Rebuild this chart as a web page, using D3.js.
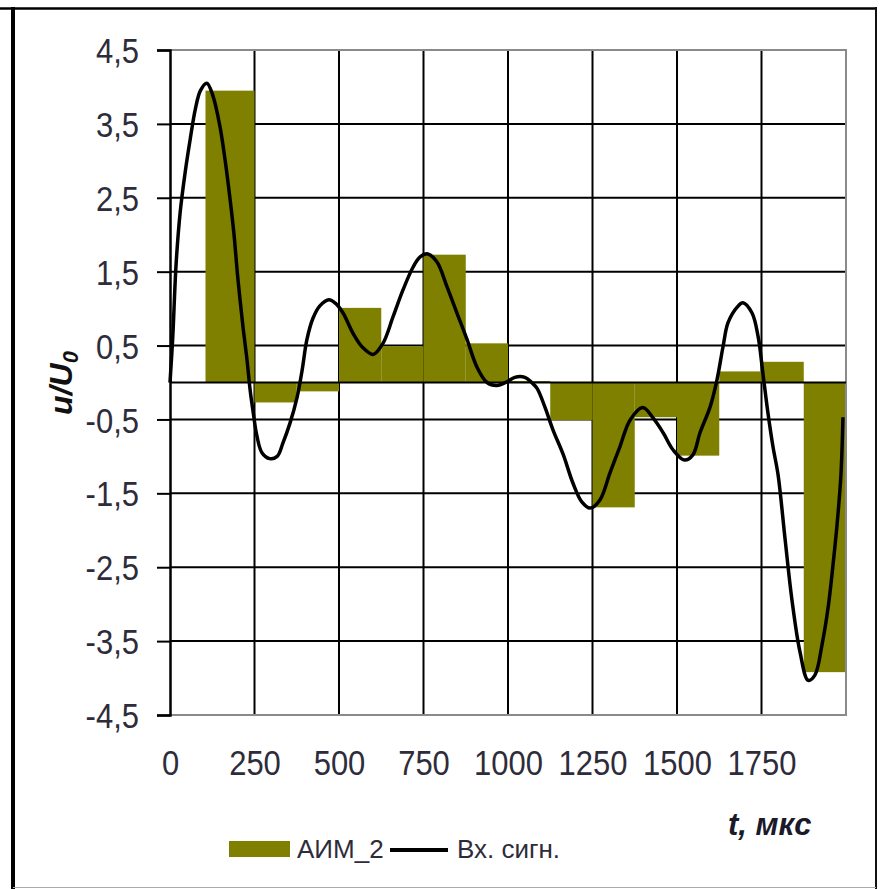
<!DOCTYPE html>
<html>
<head>
<meta charset="utf-8">
<script src="https://cdn.jsdelivr.net/npm/d3@7"></script>
<style>
  html, body { margin: 0; padding: 0; background: #fff; }
  svg { display: block; }
</style>
</head>
<body>
<svg id="chart" width="881" height="889"></svg>
<script>
// ---- data ----
const xTicks = [0, 250, 500, 750, 1000, 1250, 1500, 1750];
const yTicks = [-4.5, -3.5, -2.5, -1.5, -0.5, 0.5, 1.5, 2.5, 3.5, 4.5];
// АИМ_2 step bars: edges (мкс) and held values
const barEdges = [105, 250, 375, 500, 625, 750, 875, 1000, 1125, 1250, 1375, 1500, 1625, 1750, 1875, 2000];
const barValues = [3.95, -0.27, -0.12, 1.01, 0.49, 1.73, 0.53, 0.02, -0.51, -1.69, -0.47, -0.99, 0.15, 0.28, -3.92];
// input signal (Вх. сигн.)
const sigT = [0, 8, 18, 30, 45, 60, 75, 90, 109, 127, 148, 163, 178, 189, 201, 216, 228, 237, 246, 257, 272, 295, 317, 334, 355, 376, 391, 405, 423, 444, 470, 490, 512, 541, 571, 601, 630, 660, 689, 719, 740, 763, 790, 820, 849, 879, 908, 938, 967, 997, 1020, 1050, 1070, 1086, 1109, 1133, 1163, 1192, 1219, 1243, 1272, 1302, 1331, 1361, 1399, 1429, 1459, 1488, 1522, 1547, 1568, 1598, 1618, 1636, 1651, 1678, 1695, 1722, 1740, 1754, 1769, 1784, 1799, 1820, 1840, 1864, 1888, 1908, 1929, 1947, 1962, 1975, 1985, 1991];
const sigV = [0, 0.6, 1.6, 2.3, 2.85, 3.3, 3.7, 3.95, 4.05, 3.88, 3.46, 3.01, 2.47, 2.02, 1.4, 0.75, 0.3, -0.1, -0.4, -0.72, -0.95, -1.03, -1.0, -0.82, -0.55, -0.2, 0.17, 0.58, 0.87, 1.04, 1.12, 1.07, 0.94, 0.67, 0.47, 0.38, 0.53, 0.89, 1.25, 1.56, 1.7, 1.74, 1.63, 1.29, 0.94, 0.58, 0.21, 0.0, -0.04, 0.01, 0.07, 0.07, 0.0, -0.08, -0.33, -0.64, -0.97, -1.36, -1.62, -1.7, -1.59, -1.22, -0.87, -0.51, -0.34, -0.48, -0.68, -0.91, -1.05, -0.98, -0.68, -0.33, 0.03, 0.48, 0.81, 1.02, 1.08, 0.94, 0.62, 0.13, -0.41, -0.87, -1.25, -2.13, -2.94, -3.65, -4.03, -3.96, -3.55, -3.05, -2.45, -1.85, -1.25, -0.47];
const seriesNames = ["АИМ_2", "Вх. сигн."];

// ---- layout ----
const svg = d3.select("#chart");
const L = 170, R = 846, T = 50, B = 715;
const x = d3.scaleLinear().domain([0, 2000]).range([L, R]);
const y = d3.scaleLinear().domain([-4.5, 4.5]).range([B, T]);
const OLIVE = "#808000";
const TXT = "#2e2c3a";
const FONT = "Arial, 'Liberation Sans', sans-serif";
const SY = 1.15; // vertical stretch of the picture's text

svg.append("rect").attr("width", 881).attr("height", 889).attr("fill", "#fff");

// outer frame
svg.append("line").attr("x1", 0).attr("x2", 877).attr("y1", 8.5).attr("y2", 8.5).attr("stroke", "#000").attr("stroke-width", 2.5);
svg.append("line").attr("x1", 13).attr("x2", 13).attr("y1", 7).attr("y2", 889).attr("stroke", "#000").attr("stroke-width", 4);
svg.append("line").attr("x1", 876).attr("x2", 876).attr("y1", 7).attr("y2", 889).attr("stroke", "#111").attr("stroke-width", 2);
svg.append("line").attr("x1", 13).attr("x2", 876).attr("y1", 887.5).attr("y2", 887.5).attr("stroke", "#aaa").attr("stroke-width", 1);

// gridlines
const grid = svg.append("g");
grid.selectAll("line.h").data(yTicks.filter(v => v > -4.5 && v < 4.5)).join("line")
  .attr("x1", L).attr("x2", R).attr("y1", d => y(d)).attr("y2", d => y(d))
  .attr("stroke", "#000").attr("stroke-width", 2);
grid.selectAll("line.v").data(xTicks.filter(t => t > 0)).join("line")
  .attr("x1", d => x(d)).attr("x2", d => x(d)).attr("y1", T).attr("y2", B)
  .attr("stroke", "#000").attr("stroke-width", 2);

// bars
const bars = barValues.map((v, i) => ({ t0: barEdges[i], t1: barEdges[i + 1], v }));
svg.append("g").selectAll("rect").data(bars).join("rect")
  .attr("x", d => x(d.t0)).attr("width", d => x(d.t1) - x(d.t0))
  .attr("y", d => y(Math.max(0, d.v))).attr("height", d => Math.abs(y(d.v) - y(0)))
  .attr("fill", OLIVE);

// plot border (gray)
svg.append("path")
  .attr("d", `M${L},${T}H${R}V${B}H${L}`)
  .attr("fill", "none").attr("stroke", "#8a8a8a").attr("stroke-width", 2);

// zero line (category axis)
svg.append("line").attr("x1", L).attr("x2", R).attr("y1", y(0)).attr("y2", y(0))
  .attr("stroke", "#000").attr("stroke-width", 2);

// y axis
const yAxis = svg.append("g").attr("transform", `translate(${L},0)`)
  .call(d3.axisLeft(y).tickValues(yTicks).tickSize(13).tickPadding(18)
    .tickFormat(d => d.toFixed(1).replace(".", ",")));
yAxis.select(".domain").attr("stroke", "#000").attr("stroke-width", 2.5);
yAxis.selectAll(".tick line").attr("stroke", "#000").attr("stroke-width", 2);
yAxis.selectAll(".tick text")
  .attr("x", null).attr("dy", null)
  .attr("transform", `translate(-31,0) scale(1,${SY}) translate(0,11)`)
  .attr("fill", TXT).style("font-family", FONT).style("font-size", "31px");

// x axis labels
const xAxis = svg.append("g").attr("transform", `translate(0,${B})`)
  .call(d3.axisBottom(x).tickValues(xTicks).tickSize(0).tickFormat(d3.format("d")));
xAxis.select(".domain").remove();
xAxis.selectAll(".tick text")
  .attr("y", null).attr("dy", null)
  .attr("transform", `translate(0,60) scale(1,${SY})`)
  .attr("fill", TXT).style("font-family", FONT).style("font-size", "31px");

// signal line
const line = d3.line().x((d, i) => x(sigT[i])).y(d => y(d)).curve(d3.curveCatmullRom.alpha(0.5));
svg.append("path").datum(sigV).attr("d", line)
  .attr("fill", "none").attr("stroke", "#000").attr("stroke-width", 3.5).attr("stroke-linejoin", "round");

// y title u/U0
const yt = svg.append("text")
  .attr("transform", `translate(72,383) rotate(-90)`)
  .attr("text-anchor", "middle")
  .style("font-family", FONT).style("font-size", "32px").style("font-weight", "bold").style("font-style", "italic")
  .attr("fill", "#111");
yt.append("tspan").text("u/U");
yt.append("tspan").attr("dy", 6).style("font-size", "22px").text("0");

// x title
svg.append("text").attr("x", 728).attr("y", 835)
  .style("font-family", FONT).style("font-size", "31px").style("font-weight", "bold").style("font-style", "italic")
  .attr("fill", "#1a1a2a").text("t, мкс");

// legend
svg.append("rect").attr("x", 229).attr("y", 841).attr("width", 61).attr("height", 16).attr("fill", OLIVE);
svg.append("text").attr("x", 297).attr("y", 858).attr("fill", TXT)
  .style("font-family", FONT).style("font-size", "26px").text(seriesNames[0]);
svg.append("line").attr("x1", 390).attr("x2", 448).attr("y1", 850).attr("y2", 850).attr("stroke", "#000").attr("stroke-width", 4);
svg.append("text").attr("x", 457).attr("y", 858).attr("fill", TXT)
  .style("font-family", FONT).style("font-size", "26px").text(seriesNames[1]);
</script>
</body>
</html>
